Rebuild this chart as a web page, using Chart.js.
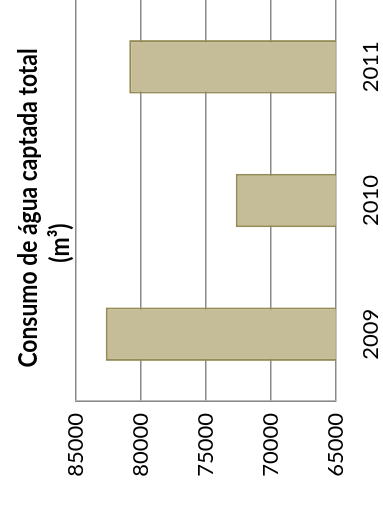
<!DOCTYPE html>
<html>
<head>
<meta charset="utf-8">
<script src="https://cdn.jsdelivr.net/npm/chart.js@4"></script>
<style>
  html, body { margin: 0; padding: 0; background: #fff; overflow: hidden; }
  /* chart is built upright (511x383) and turned a quarter turn left */
  #wrap {
    position: absolute; left: 0; top: 0;
    width: 511px; height: 383px;
    transform-origin: top left;
    transform: translate(0, 511px) rotate(-90deg);
  }
</style>
</head>
<body>
<div id="wrap"><canvas id="waterChart" width="511" height="383"></canvas></div>
<script>
// Data
const years = ['2009', '2010', '2011'];
const waterUse = [82700, 72700, 80900];
const axisMin = 65000, axisMax = 85000, axisStep = 5000;
const titleLines = ['Consumo de água captada total', '(m³)'];

// title drawn by hand: the two lines are not centred on the same spot
const titlePlugin = {
    id: 'twoLineTitle',
    afterDraw(chart) {
        const c = chart.ctx;
        const spots = [[303, 37], [268, 69]];
        c.save();
        c.fillStyle = '#000';
        c.font = 'bold 26px Lato';
        c.textAlign = 'center';
        c.textBaseline = 'alphabetic';
        titleLines.forEach((line, i) => {
            c.save();
            c.translate(spots[i][0], spots[i][1]);
            c.scale(0.88, 1);
            c.fillText(line, 0, 0);
            c.restore();
        });
        c.restore();
    }
};

const ctx = document.getElementById('waterChart').getContext('2d');
const waterChart = new Chart(ctx, {
    type: 'bar',
    data: {
        labels: years,
        datasets: [{
            label: titleLines[0],
            data: waterUse,
            backgroundColor: '#C4BD97',
            borderColor: '#948A54',
            borderWidth: 2,
            borderSkipped: false,
            barPercentage: 0.4,
            categoryPercentage: 1.0
        }]
    },
    options: {
        responsive: false,
        animation: false,
        devicePixelRatio: 1,
        layout: { padding: { top: 76, left: 0, right: 0, bottom: 0 } },
        scales: {
            x: {
                grid: { display: false, drawTicks: false },
                border: { display: false },
                ticks: {
                    color: '#000',
                    padding: 22,
                    font: { family: 'Lato', size: 22 }
                },
                afterFit: (scale) => { scale.height = 47.3; }
            },
            y: {
                min: axisMin,
                max: axisMax,
                grid: { color: '#8a8a8a', lineWidth: 1.6, drawTicks: false },
                border: { display: true, color: '#8a8a8a', width: 1.6 },
                ticks: {
                    stepSize: axisStep,
                    color: '#000',
                    padding: 12,
                    font: { family: 'Lato', size: 22 },
                    callback: (v) => String(v)
                },
                afterFit: (scale) => { scale.width = 110; }
            }
        },
        plugins: {
            legend: { display: false },
            tooltip: { enabled: false },
            title: { display: false }
        }
    },
    plugins: [titlePlugin]
});
</script>
</body>
</html>
